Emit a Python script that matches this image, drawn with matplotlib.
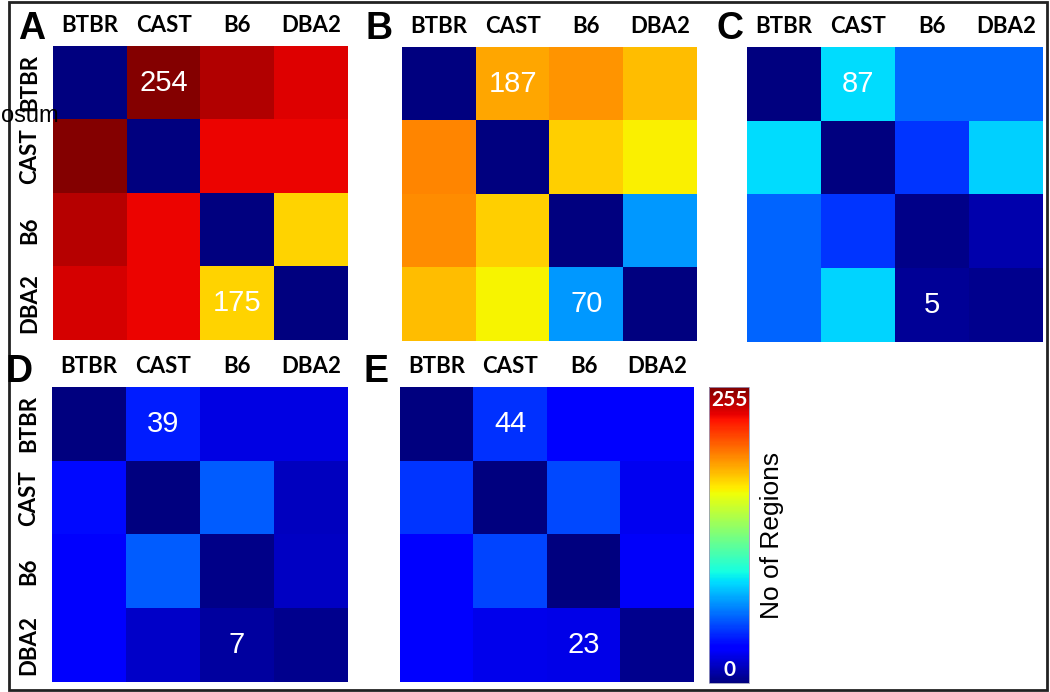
import numpy as np
import matplotlib
matplotlib.use("Agg")
import matplotlib.pyplot as plt
from matplotlib.patches import Rectangle

strains = ["BTBR", "CAST", "B6", "DBA2"]
panel_letters = ["A", "B", "C", "D", "E"]

mat_A = [[0, 254, 244, 234],
         [254, 0, 231, 231],
         [243, 231, 0, 175],
         [236, 231, 175, 0]]
mat_B = [[0, 187, 192, 181],
         [196, 0, 176, 167],
         [194, 176, 0, 70],
         [181, 166, 70, 0]]
mat_C = [[0, 87, 58, 58],
         [87, 0, 45, 84],
         [57, 45, 2, 10],
         [57, 85, 5, 3]]
mat_D = [[0, 39, 22, 22],
         [34, 0, 55, 14],
         [28, 55, 2, 15],
         [28, 16, 7, 3]]
mat_E = [[0, 44, 32, 32],
         [45, 0, 50, 25],
         [31, 49, 0, 27],
         [31, 24, 23, 3]]
matrices = [mat_A, mat_B, mat_C, mat_D, mat_E]

# annotated cells: (row, col) per panel
annot_A = [(0, 1), (3, 2)]
annot_B = [(0, 1), (3, 2)]
annot_C = [(0, 1), (3, 2)]
annot_D = [(0, 1), (3, 2)]
annot_E = [(0, 1), (3, 2)]
annots = [annot_A, annot_B, annot_C, annot_D, annot_E]

vmin, vmax = 0, 255
cbar_label = "No of Regions"

W, H = 1050, 692
fig = plt.figure(figsize=(W / 100, H / 100), dpi=100)

def px_axes(x0, y0, x1, y1):
    return fig.add_axes([x0 / W, 1 - y1 / H, (x1 - x0) / W, (y1 - y0) / H])

boxes = [(53, 46, 348, 340), (402, 47, 697, 341), (747, 47, 1043, 342),
         (52, 387, 348, 682), (400, 387, 694, 682)]
letter_pos = [(18, 39), (366, 39), (716, 39), (6, 382), (364, 382)]
show_ylabels = [True, False, False, True, False]

bold_font = "Lato"
cmap = plt.get_cmap("jet")
for i, (mat, box) in enumerate(zip(matrices, boxes)):
    ax = px_axes(*box)
    data = np.array(mat, dtype=float)
    ax.imshow(data, cmap=cmap, vmin=vmin, vmax=vmax, aspect="auto",
              interpolation="nearest")
    ax.set_xticks(range(4))
    ax.set_xticklabels(strains, fontsize=16, fontweight="bold", family=bold_font)
    ax.xaxis.tick_top()
    ax.tick_params(axis="x", length=0, pad=7)
    if show_ylabels[i]:
        ax.set_yticks(range(4))
        ax.set_yticklabels(strains, fontsize=16, fontweight="bold", family=bold_font,
                           rotation=90, va="center")
        ax.tick_params(axis="y", length=0, pad=9)
    else:
        ax.set_yticks([])
    for s in ax.spines.values():
        s.set_visible(False)
    for (r, c) in annots[i]:
        ax.text(c, r, f"{int(mat[r][c])}", color="white", ha="center", va="center",
                fontsize=21, family="Liberation Sans")
    lx, ly = letter_pos[i]
    fig.text(lx / W, 1 - ly / H, panel_letters[i], fontsize=27, fontweight="bold",
             family="Liberation Sans", ha="left", va="baseline")

# stray cropped label (partially hidden behind the row labels in the original)
fig.text(0.5 / W, 1 - 116 / H, "osum", fontsize=17, family="Liberation Sans",
         ha="left", va="center")

# colorbar
cax = px_axes(709, 387, 749, 683)
cb = fig.colorbar(plt.cm.ScalarMappable(norm=plt.Normalize(vmin, vmax), cmap=cmap), cax=cax)
cb.set_ticks([])
cb.outline.set_linewidth(0.6)
cb.outline.set_edgecolor("#9999bb")
cax.text(0.5, 0.99, "255", transform=cax.transAxes, color="white", fontweight="bold",
         family=bold_font, fontsize=15, ha="center", va="top")
cax.text(0.5, 0.01, "0", transform=cax.transAxes, color="white", fontweight="bold",
         family=bold_font, fontsize=15, ha="center", va="bottom")
fig.text(772 / W, 1 - 535 / H, cbar_label, rotation=90, fontsize=19,
         family="Liberation Sans", ha="center", va="center")

# outer frame
fig.add_artist(Rectangle((9 / W, 2 / H), 1038 / W, 688 / H, transform=fig.transFigure,
                         fill=False, edgecolor="#222222", linewidth=2))

fig.savefig("out.png", dpi=100)
